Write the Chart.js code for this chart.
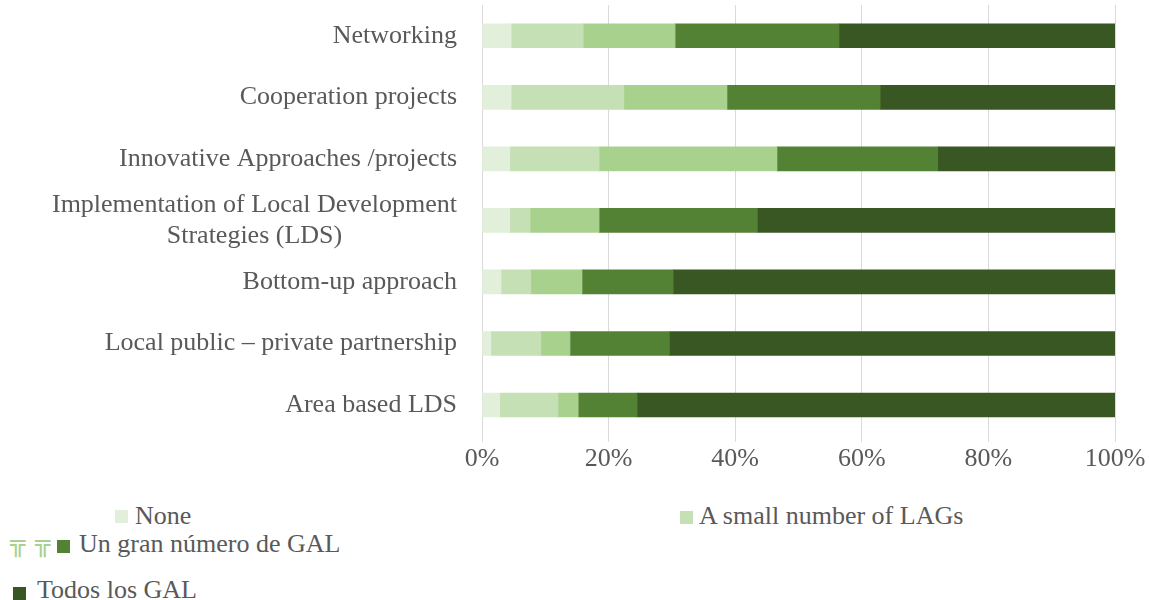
<!doctype html>
<html lang="en">
  <head>
    <meta charset="utf-8">
    <title>LEADER principles by number of LAGs</title>
    <style>
      * {
        margin: 0;
        padding: 0;
      }
      body {
        width: 1149px;
        height: 600px;
        background: #fff;
        position: relative;
        overflow: hidden;
        font-family: "Liberation Serif", serif;
        color: #595959;
      }
      .chartBox {
        position: absolute;
        left: 0;
        top: 0;
        width: 1149px;
        height: 477px;
      }
      .key {
        position: absolute;
        font-size: 26px;
        line-height: 30px;
        white-space: nowrap;
      }
      .sw {
        position: absolute;
        width: 13px;
        height: 13px;
      }
      .glyph {
        position: absolute;
        font-family: "DejaVu Sans Mono", monospace;
        font-size: 24px;
        line-height: 24px;
        color: #a9d18e;
        transform: scaleX(1.05);
        transform-origin: left top;
      }
    </style>
  </head>
  <body>
    <div class="chartBox">
      <canvas id="myChart"></canvas>
    </div>

    <!-- legend, laid out in three loose rows -->
    <div class="sw" style="left:115px;top:510px;background:#e2efda"></div>
    <div class="key" style="left:135px;top:501px">None</div>
    <div class="sw" style="left:680px;top:511px;background:#c5e0b4"></div>
    <div class="key" style="left:699px;top:501px">A small number of LAGs</div>

    <div class="glyph" style="left:10px;top:531px">╦</div>
    <div class="glyph" style="left:35px;top:531px">╦</div>
    <div class="sw" style="left:57px;top:540px;background:#548235"></div>
    <div class="key" style="left:79px;top:529px">Un gran número de GAL</div>

    <div class="sw" style="left:13px;top:587px;background:#385723"></div>
    <div class="key" style="left:37px;top:575px">Todos los GAL</div>

    <script src="https://cdn.jsdelivr.net/npm/chart.js"></script>
    <script>
    const categories = [
      'Networking',
      'Cooperation projects',
      'Innovative Approaches /projects',
      ['Implementation of Local Development', 'Strategies (LDS)'],
      'Bottom-up approach',
      'Local public \u2013 private partnership',
      'Area based LDS'
    ];

    // share of LAGs (%) per answer, one value per category
    const noneLAGs   = [4.6, 4.6, 4.4, 4.4, 3.0, 1.4, 2.8];
    const smallLAGs  = [11.4, 17.8, 14.1, 3.2, 4.7, 7.9, 9.2];
    const someLAGs   = [14.5, 16.3, 28.1, 10.9, 8.1, 4.6, 3.2];
    const manyLAGs   = [25.9, 24.2, 25.4, 25.0, 14.4, 15.7, 9.3];
    const allLAGs    = [43.6, 37.1, 28.0, 56.5, 69.8, 70.4, 75.5];

    const xTicks = [0, 20, 40, 60, 80, 100];

    Chart.defaults.font.family = '"Liberation Serif", serif';
    Chart.defaults.color = '#595959';

    // category labels: right aligned block, extra lines centred on the widest one
    const yLabels = {
      id: 'yLabels',
      afterDraw(chart) {
        const {ctx, chartArea, scales: {y}} = chart;
        const right = chartArea.left - 25;
        const lineH = 31;
        ctx.save();
        ctx.font = '26px "Liberation Serif"';
        ctx.fillStyle = '#595959';
        ctx.textAlign = 'center';
        ctx.textBaseline = 'middle';
        categories.forEach((lab, i) => {
          const lines = Array.isArray(lab) ? lab : [lab];
          const w = Math.max(...lines.map(l => ctx.measureText(l).width));
          const cx = right - w / 2;
          const cy = y.getPixelForValue(i);
          lines.forEach((l, j) => {
            ctx.fillText(l, cx, cy + (j - (lines.length - 1) / 2) * lineH);
          });
        });
        ctx.restore();
      }
    };

    const ds = (label, data, color) => ({
      label, data,
      backgroundColor: color,
      borderWidth: 0,
      barThickness: 24
    });

    new Chart(document.getElementById('myChart'), {
      type: 'bar',
      data: {
        labels: categories,
        datasets: [
          ds('None', noneLAGs, '#e2efda'),
          ds('A small number of LAGs', smallLAGs, '#c5e0b4'),
          ds('Some LAGs', someLAGs, '#a9d18e'),
          ds('Un gran número de GAL', manyLAGs, '#548235'),
          ds('Todos los GAL', allLAGs, '#385723')
        ]
      },
      options: {
        indexAxis: 'y',
        responsive: true,
        maintainAspectRatio: false,
        animation: false,
        layout: { padding: { top: 5, right: 34, left: 0, bottom: 0 } },
        plugins: {
          legend: { display: false },
          tooltip: { enabled: false }
        },
        scales: {
          x: {
            stacked: true,
            min: 0,
            max: 100,
            afterBuildTicks(scale) {
              scale.ticks = xTicks.map(v => ({ value: v }));
            },
            ticks: {
              font: { size: 26 },
              color: '#595959',
              padding: 2,
              callback: v => v + '%'
            },
            grid: { color: '#d9d9d9', tickLength: 6 },
            border: { display: false }
          },
          y: {
            stacked: true,
            grid: { display: false },
            border: { display: false },
            ticks: { display: false },
            afterFit(scale) { scale.width = 482; }
          }
        }
      },
      plugins: [yLabels]
    });
    </script>
  </body>
</html>
